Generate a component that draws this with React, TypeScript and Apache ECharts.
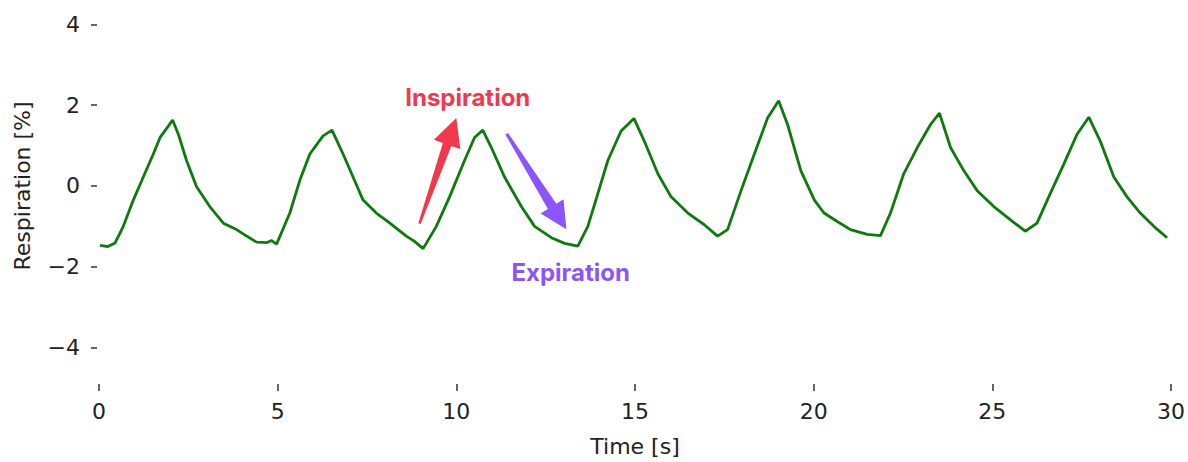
import React, { useEffect, useRef } from "react";
import * as echarts from "echarts";

const timeS = [
  0.03, 0.25, 0.45, 0.68, 0.96, 1.24, 1.52, 1.71, 1.94, 2.06, 2.22, 2.45, 2.73, 3.1, 3.48, 3.85, 4.13, 4.41, 4.7, 4.83, 4.97,
  5.34, 5.62, 5.9, 6.27, 6.52, 6.83, 7.11, 7.39, 7.76, 8.14, 8.6, 8.83, 9.07, 9.44, 9.81, 10.23, 10.51, 10.74, 10.98,
  11.35, 11.82, 12.19, 12.66, 13.03, 13.4, 13.68, 13.96, 14.24, 14.61, 14.97, 15.26, 15.64, 16.01, 16.48, 16.94, 17.31,
  17.59, 17.97, 18.34, 18.71, 19.02, 19.27, 19.64, 20.02, 20.29, 20.66, 21.03, 21.5, 21.87, 22.15, 22.52, 22.9, 23.27,
  23.52, 23.83, 24.2, 24.57, 25.04, 25.51, 25.92, 26.25, 26.62, 27.0, 27.37, 27.7, 28.02, 28.4, 28.77, 29.14, 29.52, 29.89,
];
const respiration = [
  -1.47, -1.5, -1.41, -1.0, -0.35, 0.22, 0.79, 1.2, 1.48, 1.63, 1.28, 0.63, -0.02, -0.51, -0.92, -1.08, -1.24, -1.39, -1.4,
  -1.35, -1.44, -0.67, 0.14, 0.79, 1.24, 1.38, 0.79, 0.22, -0.35, -0.67, -0.92, -1.24, -1.37, -1.55, -1.0, -0.27, 0.63, 1.2,
  1.38, 0.95, 0.22, -0.51, -1.0, -1.28, -1.42, -1.49, -1.0, -0.19, 0.63, 1.36, 1.67, 1.11, 0.3, -0.27, -0.67, -0.96, -1.24,
  -1.08, -0.11, 0.79, 1.68, 2.11, 1.52, 0.38, -0.35, -0.67, -0.88, -1.08, -1.2, -1.23, -0.67, 0.3, 0.95, 1.52, 1.8, 0.95,
  0.38, -0.11, -0.51, -0.84, -1.12, -0.92, -0.19, 0.54, 1.28, 1.7, 1.11, 0.22, -0.27, -0.67, -1.0, -1.28,
];
const yTicks = [-4, -2, 0, 2, 4];

// annotations in data coordinates
const inspirationArrow = { from: [8.97, -0.93], to: [10.0, 1.68] };
const expirationArrow = { from: [11.41, 1.29], to: [13.08, -1.07] };
const inspirationLabel = { text: "Inspiration", at: [10.32, 2.2] };
const expirationLabel = { text: "Expiration", at: [13.2, -2.15] };

const FONT = "'DejaVu Sans', sans-serif";
const TXT = "#222222";

function arrowPoints(t: number[], p: number[], w0: number, w1: number, hw: number, hl: number) {
  const dx = p[0] - t[0];
  const dy = p[1] - t[1];
  const len = Math.hypot(dx, dy);
  const ux = dx / len, uy = dy / len;
  const nx = -uy, ny = ux;
  const b = [p[0] - ux * hl, p[1] - uy * hl];
  return [
    [t[0] + nx * w0 / 2, t[1] + ny * w0 / 2],
    [b[0] + nx * w1 / 2, b[1] + ny * w1 / 2],
    [b[0] + nx * hw / 2, b[1] + ny * hw / 2],
    [p[0], p[1]],
    [b[0] - nx * hw / 2, b[1] - ny * hw / 2],
    [b[0] - nx * w1 / 2, b[1] - ny * w1 / 2],
    [t[0] - nx * w0 / 2, t[1] - ny * w0 / 2],
  ];
}

export default function App() {
  const ref = useRef<HTMLDivElement>(null);
  useEffect(() => {
    document.body.style.margin = "0";
    const chart = echarts.init(ref.current!, null, { renderer: "svg" });
    const fmt = (v: number) => String(v).replace("-", "\u2212");
    chart.setOption({
      animation: false,
      backgroundColor: "#ffffff",
      grid: { left: 99, right: 16, top: 0, bottom: 74 },
      xAxis: {
        type: "value",
        min: 0,
        max: 30,
        interval: 5,
        offset: 2,
        name: "Time [s]",
        nameLocation: "middle",
        nameGap: 51,
        nameTextStyle: { fontFamily: FONT, fontSize: 22, color: TXT },
        axisLine: { show: false, onZero: false },
        axisTick: { show: true, length: 7, lineStyle: { color: "#333", width: 1.5 } },
        axisLabel: { margin: 16, fontFamily: FONT, fontSize: 22, color: TXT, formatter: fmt },
        splitLine: { show: false },
      },
      yAxis: {
        type: "value",
        min: -4.85,
        max: 4.6,
        offset: 2,
        axisLine: { show: false, onZero: false },
        axisTick: { show: true, length: 6, customValues: yTicks, lineStyle: { color: "#333", width: 1.5 } },
        axisLabel: { margin: 17, fontFamily: FONT, fontSize: 22, color: TXT, customValues: yTicks, formatter: fmt },
        splitLine: { show: false },
      },
      series: [
        {
          type: "line",
          data: timeS.map((t, i) => [t, respiration[i]]),
          showSymbol: false,
          lineStyle: { color: "#0e7a0e", width: 2.8 },
          itemStyle: { color: "#0e7a0e" },
        },
      ],
    });

    const px = (d: number[]) => chart.convertToPixel({ gridIndex: 0 }, d) as number[];
    const zero = px([0, 0]);
    const red = "#f2394c";
    const purple = "#8b55fb";
    chart.setOption({
      graphic: [
        {
          type: "text",
          x: 22,
          y: zero[1],
          rotation: Math.PI / 2,
          style: {
            text: "Respiration [%]",
            fill: TXT,
            font: "22px 'DejaVu Sans', sans-serif",
            align: "center",
            verticalAlign: "middle",
          },
        },
        {
          type: "polygon",
          shape: { points: arrowPoints(px(inspirationArrow.from), px(inspirationArrow.to), 2.5, 9, 28, 28) },
          style: { fill: red },
        },
        {
          type: "polygon",
          shape: { points: arrowPoints(px(expirationArrow.from), px(expirationArrow.to), 3, 10, 27, 27) },
          style: { fill: purple },
        },
        {
          type: "text",
          x: px(inspirationLabel.at)[0],
          y: px(inspirationLabel.at)[1],
          style: {
            text: inspirationLabel.text,
            fill: red,
            font: "bold 24px Inter, Roboto, sans-serif",
            align: "center",
            verticalAlign: "middle",
          },
        },
        {
          type: "text",
          x: px(expirationLabel.at)[0],
          y: px(expirationLabel.at)[1],
          style: {
            text: expirationLabel.text,
            fill: purple,
            font: "bold 24px Inter, Roboto, sans-serif",
            align: "center",
            verticalAlign: "middle",
          },
        },
      ],
    });
    return () => chart.dispose();
  }, []);
  return <div ref={ref} style={{ width: 1188, height: 462 }} />;
}
